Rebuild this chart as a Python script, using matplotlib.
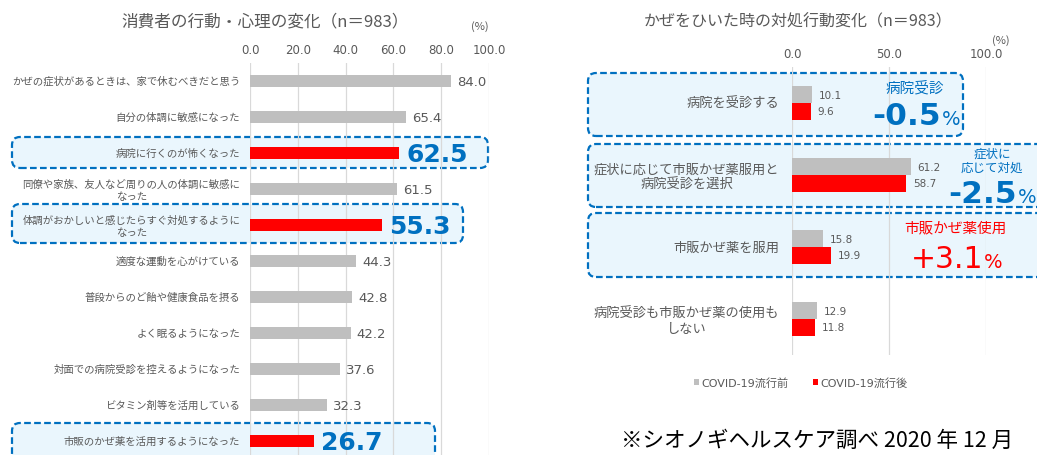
import matplotlib
matplotlib.use('Agg')
import matplotlib.pyplot as plt
from matplotlib.patches import FancyBboxPatch
from matplotlib.transforms import IdentityTransform
import numpy as np

plt.rcParams['font.family'] = ['Noto Sans CJK JP', 'DejaVu Sans']

W, H = 1037, 455
DPI = 100

# ---------------- data ----------------
left_title = '消費者の行動・心理の変化（n＝983）'
left_labels = [
    'かぜの症状があるときは、家で休むべきだと思う',
    '自分の体調に敏感になった',
    '病院に行くのが怖くなった',
    '同僚や家族、友人など周りの人の体調に敏感に\nなった',
    '体調がおかしいと感じたらすぐ対処するように\nなった',
    '適度な運動を心がけている',
    '普段からのど飴や健康食品を摂る',
    'よく眠るようになった',
    '対面での病院受診を控えるようになった',
    'ビタミン剤等を活用している',
    '市販のかぜ薬を活用するようになった',
]
left_values = [84.0, 65.4, 62.5, 61.5, 55.3, 44.3, 42.8, 42.2, 37.6, 32.3, 26.7]
left_highlight = [False, False, True, False, True, False, False, False, False, False, True]
left_ticks = [0, 20, 40, 60, 80, 100]

right_title = 'かぜをひいた時の対処行動変化（n＝983）'
right_labels = [
    '病院を受診する',
    '症状に応じて市販かぜ薬服用と\n病院受診を選択',
    '市販かぜ薬を服用',
    '病院受診も市販かぜ薬の使用も\nしない',
]
before_values = [10.1, 61.2, 15.8, 12.9]
after_values = [9.6, 58.7, 19.9, 11.8]
series_names = ['COVID-19流行前', 'COVID-19流行後']
right_ticks = [0, 50, 100]

callout_heads = ['病院受診', '症状に\n応じて対処', '市販かぜ薬使用']
callout_values = ['-0.5', '-2.5', '+3.1']
footnote = '※シオノギヘルスケア調べ 2020 年 12 月'

# ---------------- style ----------------
GREY_TXT = '#595959'
BAR_GREY = '#BFBFBF'
BAR_RED = '#FF0000'
BLUE = '#0070C0'
BOX_FILL = '#EAF6FD'
GRID = '#D9D9D9'
PX = 72.0 / DPI  # points per pixel
NUM = ['DejaVu Sans', 'Noto Sans CJK JP']

fig = plt.figure(figsize=(W / DPI, H / DPI), dpi=DPI)


def fx(x):
    return x / W


def fy(y):
    return 1 - y / H


def box(x0, y0, x1, y1):
    p = FancyBboxPatch((x0, H - y1), x1 - x0, y1 - y0,
                       boxstyle='round,pad=0,rounding_size=8',
                       transform=IdentityTransform(), facecolor=BOX_FILL,
                       edgecolor=BLUE, linewidth=1.6, linestyle=(0, (3, 1.5)),
                       zorder=-5)
    fig.patches.append(p)


# highlight boxes (decorations)
box(12, 137, 488, 168)
box(12, 204, 463, 243)
box(12, 423, 435, 470)
box(588, 73, 963, 136)
box(588, 144, 1050, 207)
box(588, 213, 1050, 277)

# ---------------- left chart ----------------
ax1 = fig.add_axes([fx(250), fy(459), 239 / W, 396 / H])
ax1.patch.set_visible(False)
n1 = len(left_labels)
ypos = np.arange(n1)
colors1 = [BAR_RED if h else BAR_GREY for h in left_highlight]
ax1.barh(ypos, left_values, height=0.34, color=colors1, zorder=3)
ax1.set_xlim(0, 100)
ax1.set_ylim(n1 - 0.5, -0.5)
ax1.set_xticks(left_ticks)
ax1.set_xticklabels([f'{t:.1f}' for t in left_ticks], family=NUM)
ax1.xaxis.tick_top()
ax1.tick_params(axis='x', length=0, pad=4, labelsize=8.5, labelcolor=GREY_TXT)
ax1.set_yticks(ypos)
ax1.set_yticklabels(left_labels, fontsize=7.5, color=GREY_TXT, multialignment='center')
ax1.tick_params(axis='y', length=0, pad=7)
ax1.grid(axis='x', color=GRID, linewidth=0.9, zorder=0)
ax1.set_axisbelow(True)
for s in ax1.spines.values():
    s.set_visible(False)

for i, (v, hl) in enumerate(zip(left_values, left_highlight)):
    if hl:
        ax1.annotate(f'{v:.1f}', xy=(v, i), xytext=(7 * PX, 0), textcoords='offset points',
                     ha='left', va='center_baseline', fontsize=18, color=BLUE,
                     fontweight='bold', family=NUM)
    else:
        ax1.annotate(f'{v:.1f}', xy=(v, i), xytext=(6 * PX, 0), textcoords='offset points',
                     ha='left', va='center_baseline', fontsize=9.5, color=GREY_TXT,
                     family=NUM)

fig.text(fx(265), fy(22), left_title, ha='center', va='center', fontsize=12, color=GREY_TXT)
fig.text(fx(480), fy(27), '(%)', ha='center', va='center', fontsize=8, color=GREY_TXT)

# ---------------- right chart ----------------
ax2 = fig.add_axes([fx(792), fy(355), 194 / W, 288 / H])
ax2.patch.set_visible(False)
n2 = len(right_labels)
yp2 = np.arange(n2)
bh = 0.236
b1 = ax2.barh(yp2 - bh / 2, before_values, height=bh, color=BAR_GREY, zorder=3,
              label=series_names[0])
b2 = ax2.barh(yp2 + bh / 2, after_values, height=bh, color=BAR_RED, zorder=3,
              label=series_names[1])
ax2.set_xlim(0, 100)
ax2.set_ylim(n2 - 0.5, -0.5)
ax2.set_xticks(right_ticks)
ax2.set_xticklabels([f'{t:.1f}' for t in right_ticks], family=NUM)
ax2.xaxis.tick_top()
ax2.tick_params(axis='x', length=0, pad=4, labelsize=8.5, labelcolor=GREY_TXT)
ax2.set_yticks(yp2)
ax2.set_yticklabels(right_labels, fontsize=9.5, color=GREY_TXT, multialignment='center')
ax2.tick_params(axis='y', length=0, pad=9)
ax2.grid(axis='x', color=GRID, linewidth=0.9, zorder=0)
ax2.set_axisbelow(True)
for s in ax2.spines.values():
    s.set_visible(False)

for i in range(n2):
    ax2.annotate(f'{before_values[i]:.1f}', xy=(before_values[i], i - bh / 2),
                 xytext=(7 * PX, 0), textcoords='offset points', ha='left',
                 va='center_baseline', fontsize=7.5, color=GREY_TXT, family=NUM)
    ax2.annotate(f'{after_values[i]:.1f}', xy=(after_values[i], i + bh / 2),
                 xytext=(7 * PX, 0), textcoords='offset points', ha='left',
                 va='center_baseline', fontsize=7.5, color=GREY_TXT, family=NUM)

fig.text(fx(798), fy(22), right_title, ha='center', va='center', fontsize=11.5, color=GREY_TXT)
fig.text(fx(1001), fy(41), '(%)', ha='center', va='center', fontsize=8, color=GREY_TXT)

# callouts
fig.text(fx(915), fy(88), callout_heads[0], ha='center', va='center', fontsize=10.5, color=BLUE)
fig.text(fx(941), fy(125), callout_values[0], ha='right', va='baseline', fontsize=22.5,
         color=BLUE, fontweight='bold', family=NUM)
fig.text(fx(942), fy(125), '%', ha='left', va='baseline', fontsize=14, color=BLUE, family=NUM)

fig.text(fx(992), fy(161), callout_heads[1], ha='center', va='center', fontsize=9,
         color=BLUE, linespacing=1.05)
fig.text(fx(1017), fy(203), callout_values[1], ha='right', va='baseline', fontsize=22.5,
         color=BLUE, fontweight='bold', family=NUM)
fig.text(fx(1018), fy(203), '%', ha='left', va='baseline', fontsize=14, color=BLUE, family=NUM)

fig.text(fx(955), fy(228), callout_heads[2], ha='center', va='center', fontsize=10.5, color=BAR_RED)
fig.text(fx(983), fy(268), callout_values[2], ha='right', va='baseline', fontsize=21.5,
         color=BAR_RED, family=NUM)
fig.text(fx(984), fy(268), '%', ha='left', va='baseline', fontsize=14, color=BAR_RED, family=NUM)

# legend
fig.legend(handles=[b1, b2], labels=series_names, loc='center',
           bbox_to_anchor=(fx(801), fy(383)), ncol=2, frameon=False,
           prop={'family': NUM, 'size': 8},
           handlelength=0.45, handleheight=0.45, handletextpad=0.2, columnspacing=2.2,
           labelcolor=GREY_TXT)

# footnote
fig.text(fx(817), fy(441), footnote, ha='center', va='center', fontsize=15.5, color='black')

fig.savefig('out.png', dpi=DPI)
